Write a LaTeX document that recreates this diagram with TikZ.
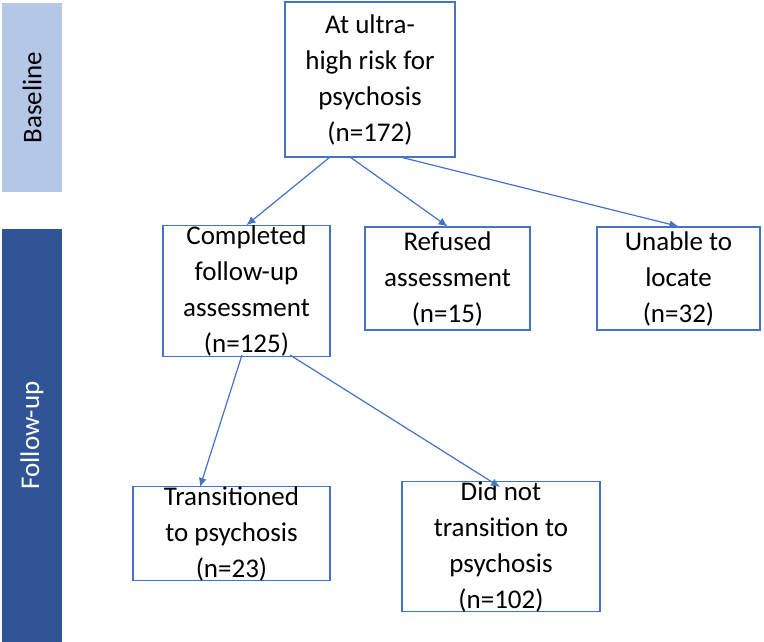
\documentclass[tikz,border=0pt]{standalone}
\usepackage{fontspec}
\setmainfont{Carlito}
\usetikzlibrary{arrows.meta}
\begin{document}
\begin{tikzpicture}[x=1pt,y=-1pt,
  box/.style={draw=bx,line width=1.2pt,fill=white,align=center,font=\fontsize{27}{36}\selectfont,inner sep=0pt},
  arr/.style={draw=bx,line width=1.2pt,-{Latex[length=9pt,width=8pt]}}]
\definecolor{bx}{HTML}{4472C4}
\definecolor{lb}{HTML}{B4C7E7}
\definecolor{db}{HTML}{2F5597}
\useasboundingbox (0,0) rectangle (764,642);
\node[fill=lb,minimum width=60pt,minimum height=189pt,inner sep=0pt] (base) at (32,97.5) {};
\node[rotate=90,font=\fontsize{27}{30}\selectfont] (bt) at (base) {Baseline};
\node[fill=db,minimum width=60pt,minimum height=413pt,inner sep=0pt] (fu) at (32,435.5) {};
\node[rotate=90,text=white,font=\fontsize{27}{30}\selectfont] (ft) at (fu) {Follow-up};
\node[box,minimum width=170pt,minimum height=155pt] (a) at (370,79.5) {At ultra-\\high risk for\\psychosis\\(n=172)};
\node[box,minimum width=167pt,minimum height=128pt] (c) at (246.5,291) {Completed\\follow-up\\assessment\\(n=125)};
\node[box,minimum width=165pt,minimum height=103pt] (r) at (447.5,278.5) {Refused\\assessment\\(n=15)};
\node[box,minimum width=163pt,minimum height=103pt] (u) at (678.5,278.5) {Unable to\\locate\\(n=32)};
\node[box,minimum width=197pt,minimum height=93pt] (t) at (231.5,533.5) {Transitioned\\to psychosis\\(n=23)};
\node[box,minimum width=198pt,minimum height=119pt] (d) at (501,546.5) {Did not\\transition to\\psychosis\\(n=102)};
\coordinate (a1) at (330,157); \coordinate (a2) at (350,157); \coordinate (a3) at (400,157);
\coordinate (c1) at (242,355); \coordinate (c2) at (290,355);
\coordinate (t1) at (200,487); \coordinate (d1) at (500,487);
\draw[arr] (a1) -- (c.north);
\draw[arr] (a2) -- (r.north);
\draw[arr] (a3) -- (u.north);
\draw[arr] (c1) -- (t1);
\draw[arr] (c2) -- (d1);
\end{tikzpicture}
\end{document}
